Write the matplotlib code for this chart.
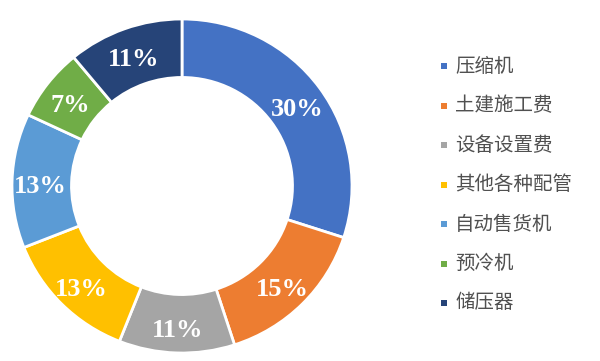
import matplotlib
matplotlib.use("Agg")
import matplotlib.pyplot as plt
from matplotlib.patches import Rectangle

plt.rcParams['font.family'] = ['Noto Sans CJK SC', 'DejaVu Sans']

categories = ["压缩机", "土建施工费", "设备设置费", "其他各种配管", "自动售货机", "预冷机", "储压器"]
values = [30, 15, 11, 13, 13, 7, 11]
colors = ["#4472C4", "#ED7D31", "#A5A5A5", "#FFC000", "#5B9BD5", "#70AD47", "#264478"]

W, H = 600, 361
fig = plt.figure(figsize=(W / 100, H / 100), dpi=100)
fig.patch.set_facecolor("white")

cx, cy, Rx, Ry = 182, 186, 170, 167
ax = fig.add_axes([(cx - Rx) / W, (H - cy - Ry) / H, 2 * Rx / W, 2 * Ry / H])
wedges, texts = ax.pie(values, colors=colors, startangle=90, counterclock=False,
                       radius=1.0,
                       wedgeprops=dict(width=0.35, edgecolor="white", linewidth=2),
                       labels=[f"{v}%" for v in values], labeldistance=0.835,
                       textprops=dict(color="white", fontsize=19, fontweight="bold",
                                      family=["Liberation Serif"], ha="center", va="center"))
# nudge labels down so their visual centre sits on the ring centreline
for t in texts:
    x, y = t.get_position()
    t.set_position((x, y - 5.0 / Ry))
ax.set_xlim(-1.0, 1.0)
ax.set_ylim(-1.0, 1.0)
ax.set_aspect("auto")
ax.axis("off")

# legend
x_mark, y0, dy = 444, 66, 39.5
for i, (cat, col) in enumerate(zip(categories, colors)):
    y = y0 + i * dy
    fig.patches.append(Rectangle(((x_mark - 3) / W, (H - y - 3) / H), 6 / W, 6 / H,
                                 transform=fig.transFigure, facecolor=col, edgecolor="none"))
    fig.text(455 / W, (H - y) / H, cat, fontsize=14, color="#505050", ha="left", va="center")

fig.savefig("out.png", dpi=100, facecolor="white")
